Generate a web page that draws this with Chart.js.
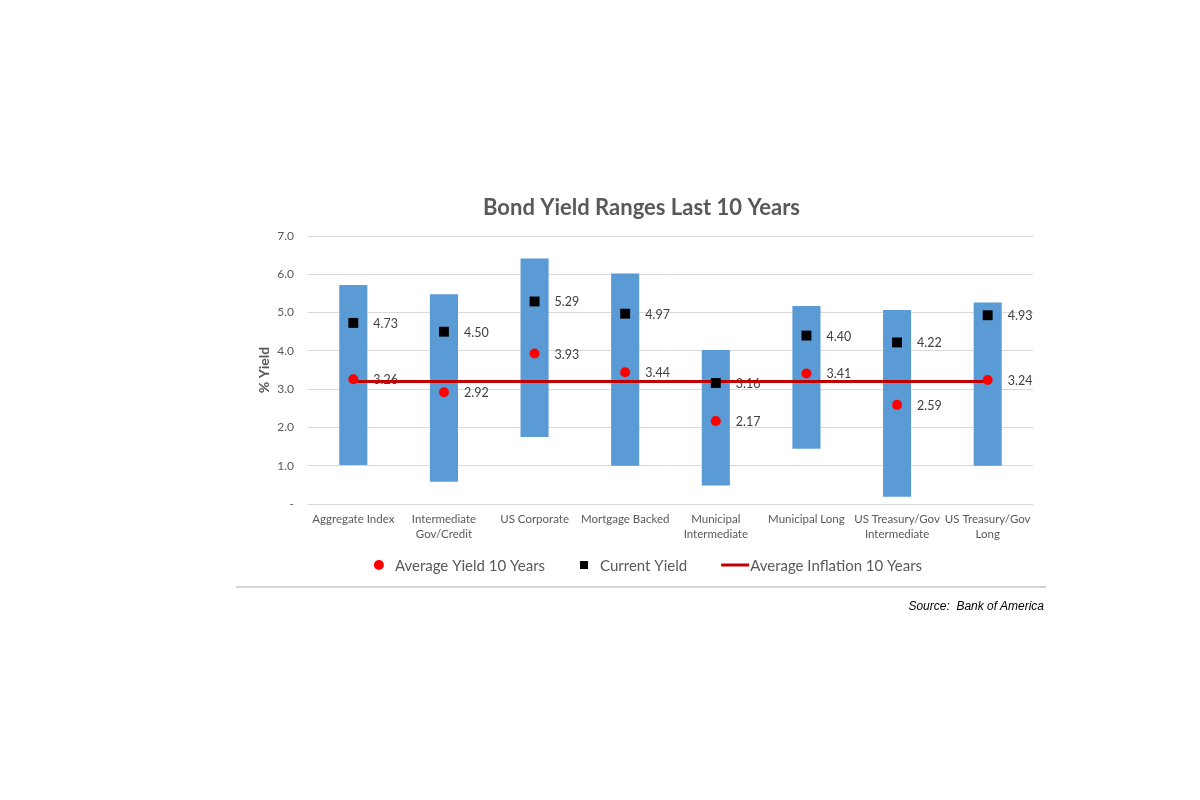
<!DOCTYPE html>
<html>
<head>
<meta charset="utf-8">
<script src="https://cdn.jsdelivr.net/npm/chart.js@4.4.1/dist/chart.umd.min.js"></script>
<style>
  html, body { margin: 0; padding: 0; background: #ffffff; width: 1200px; height: 800px; overflow: hidden; }
  #c { position: absolute; left: 0; top: 0; }
  #sep { position: absolute; left: 236px; top: 586px; width: 810px; height: 2px; background: #d4d4d4; }
  #src { position: absolute; right: 156px; top: 599px; font: italic 12px "Liberation Sans", Arial, sans-serif; color: #000; }
</style>
</head>
<body>
<canvas id="c" width="1200" height="800"></canvas>
<div id="sep"></div>
<div id="src">Source:&nbsp; Bank of America</div>
<script>
const categories = [
  "Aggregate Index",
  ["Intermediate", "Gov/Credit"],
  "US Corporate",
  "Mortgage Backed",
  ["Municipal", "Intermediate"],
  "Municipal Long",
  ["US Treasury/Gov", "Intermediate"],
  ["US Treasury/Gov", "Long"]
];
const rangeLow  = [1.02, 0.58, 1.75, 1.00, 0.48, 1.44, 0.19, 1.00];
const rangeHigh = [5.72, 5.48, 6.41, 6.02, 4.02, 5.17, 5.07, 5.26];
const avgYield = [3.26, 2.92, 3.93, 3.44, 2.17, 3.41, 2.59, 3.24];
const currentYield = [4.73, 4.50, 5.29, 4.97, 3.16, 4.40, 4.22, 4.93];
const avgInflation = [3.2, 3.2, 3.2, 3.2, 3.2, 3.2, 3.2, 3.2];
const yTicks = [0, 1, 2, 3, 4, 5, 6, 7];
const legendLabels = ["Average Yield 10 Years", "Current Yield", "Average Inflation 10 Years"];

const FONT = "Lato, 'Open Sans', sans-serif";
const GREY = "#595959";

const rangeData = rangeLow.map((v, i) => [v, rangeHigh[i]]);

const labelPlugin = {
  id: 'pointLabels',
  afterDatasetDraw(chart, args) {
    if (args.index !== 0) return;
    const ctx = chart.ctx;
    ctx.save();
    ctx.font = "12.5px " + FONT;
    ctx.fillStyle = "#404040";
    ctx.textAlign = "left";
    ctx.textBaseline = "middle";
    [1, 2].forEach(di => {
      const meta = chart.getDatasetMeta(di);
      const vals = chart.data.datasets[di].data;
      meta.data.forEach((pt, i) => {
        ctx.fillText(vals[i].toFixed(2), pt.x + 20, pt.y + 1);
      });
    });
    ctx.restore();
  }
};

const legendPlugin = {
  id: 'customLegend',
  afterDraw(chart) {
    const ctx = chart.ctx;
    ctx.save();
    ctx.font = "15px " + FONT;
    ctx.textBaseline = "middle";
    ctx.textAlign = "left";
    const y = 565;
    const w = legendLabels.map(t => ctx.measureText(t).width);
    const markerW = [10, 10, 28];
    const gapAfter = [11, 11, 1];
    const spacing = 34;
    let total = 0;
    for (let i = 0; i < 3; i++) total += markerW[i] + gapAfter[i] + w[i];
    total += spacing * 2;
    let x = 648 - total / 2;
    for (let i = 0; i < 3; i++) {
      if (i === 0) {
        ctx.fillStyle = "#FF0000";
        ctx.beginPath(); ctx.arc(x + 5, y, 5, 0, Math.PI * 2); ctx.fill();
      } else if (i === 1) {
        ctx.fillStyle = "#000000";
        ctx.fillRect(x + 1, y - 4, 8, 8);
      } else {
        ctx.strokeStyle = "#C00000"; ctx.lineWidth = 3;
        ctx.beginPath(); ctx.moveTo(x, y); ctx.lineTo(x + 28, y); ctx.stroke();
      }
      x += markerW[i] + gapAfter[i];
      ctx.fillStyle = GREY;
      ctx.fillText(legendLabels[i], x, y + 1);
      x += w[i] + spacing;
    }
    ctx.restore();
  }
};

new Chart(document.getElementById('c'), {
  type: 'bar',
  data: {
    labels: categories,
    datasets: [
      {
        type: 'bar', label: 'Range', data: rangeData,
        backgroundColor: '#5B9BD5', borderWidth: 0,
        categoryPercentage: 1.0, barPercentage: 0.31, order: 4
      },
      {
        type: 'line', label: legendLabels[0], data: avgYield, showLine: false,
        pointStyle: 'circle', pointRadius: 5, pointHoverRadius: 5,
        pointBackgroundColor: '#FF0000', pointBorderWidth: 0, order: 1
      },
      {
        type: 'line', label: legendLabels[1], data: currentYield, showLine: false,
        pointStyle: 'rect', pointRadius: 7, pointHoverRadius: 7,
        pointBackgroundColor: '#000000', pointBorderWidth: 0, order: 2
      },
      {
        type: 'line', label: legendLabels[2], data: avgInflation,
        borderColor: '#C00000', borderWidth: 3, pointRadius: 0, fill: false, order: 3
      }
    ]
  },
  options: {
    responsive: false,
    animation: false,
    devicePixelRatio: 1,
    layout: { padding: { left: 250, right: 167, top: 195, bottom: 250 } },
    plugins: {
      legend: { display: false },
      tooltip: { enabled: false },
      title: {
        display: true,
        text: 'Bond Yield Ranges Last 10 Years',
        color: GREY,
        font: { family: FONT, size: 22, weight: 'bold', lineHeight: 1.2 },
        padding: { top: 0, bottom: 14.6 }
      }
    },
    scales: {
      x: {
        grid: { display: false, drawTicks: false },
        border: { display: false },
        ticks: { color: GREY, font: { family: FONT, size: 11.5, lineHeight: 1.3 }, padding: 8, maxRotation: 0, autoSkip: false },
        afterFit(scale) { scale.height = 46; }
      },
      y: {
        min: 0, max: 7,
        afterBuildTicks(scale) { scale.ticks = yTicks.map(v => ({ value: v })); },
        grid: { color: '#d9d9d9', lineWidth: 1, drawTicks: false },
        border: { display: false },
        ticks: {
          color: GREY, font: { family: FONT, size: 12 }, padding: 14,
          callback: (v) => v === 0 ? '-' : Number(v).toFixed(1)
        },
        title: {
          display: true, text: '% Yield', color: GREY,
          font: { family: FONT, size: 14, weight: 'bold', lineHeight: 1.2 },
          padding: { top: 6, bottom: 0 }
        },
        afterFit(scale) { scale.width = 58; }
      }
    }
  },
  plugins: [labelPlugin, legendPlugin]
});
</script>
</body>
</html>
